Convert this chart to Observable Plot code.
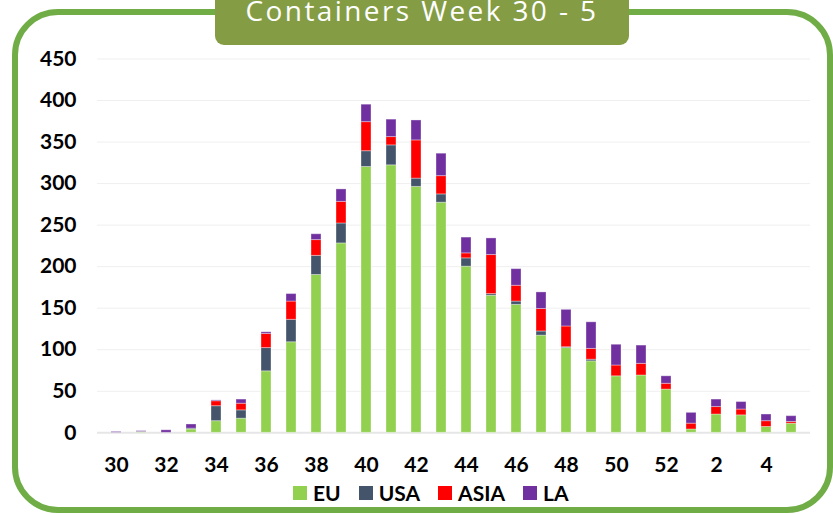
<!DOCTYPE html>
<html>
<head>
<meta charset="utf-8">
<script src="https://cdn.jsdelivr.net/npm/d3@7"></script>
<script src="https://cdn.jsdelivr.net/npm/@observablehq/plot@0.6"></script>
<style>
html,body{margin:0;padding:0;background:#fff;}
#wrap{position:relative;width:833px;height:514px;overflow:hidden;font-family:Lato,"Open Sans",sans-serif;}
#frame{position:absolute;left:12px;top:9px;width:821px;height:504px;box-sizing:border-box;border:6px solid #70ad47;border-radius:46px;}
#title{position:absolute;left:215px;top:0;width:414px;height:45px;background:#849d44;border-radius:0 0 9px 9px;overflow:hidden;}
#title span{position:absolute;left:0;right:0;top:-4px;text-align:center;color:#fff;font-family:"Open Sans",sans-serif;font-size:28px;line-height:28px;letter-spacing:2.4px;white-space:nowrap;}
#chart{position:absolute;left:0;top:0;}
#legend{position:absolute;left:293px;top:482px;display:flex;align-items:center;font-family:Lato,sans-serif;font-weight:bold;font-size:21px;line-height:21px;color:#000;}
#legend .item{display:flex;align-items:center;margin-right:18px;}
#legend .sw{width:14px;height:14px;margin-right:6px;}
</style>
</head>
<body>
<div id="wrap">
  <div id="frame"></div>
  <div id="chart"></div>
  <div id="legend"></div>
  <div id="title"><span>Containers Week 30 - 5</span></div>
</div>
<script>
const weeks = ["30","31","32","33","34","35","36","37","38","39","40","41","42","43","44","45","46","47","48","49","50","51","52","1","2","3","4","5"];
const series = ["EU","USA","ASIA","LA"];
const colors = ["#92d050","#44546a","#ff0000","#7030a0"];
const eu   = [0,1,0,4,14,17,74,109,190,228,320,322,296,277,200,165,154,117,102,86,68,69,52,4,22,21,7,11];
const usa  = [0,0,0,1,18,10,28,27,23,24,19,24,10,10,10,2,4,5,1,2,0,0,0,0,0,0,0,0];
const asia = [0,0,0,0,6,8,17,22,19,26,35,10,46,22,6,47,19,27,25,13,13,14,7,7,9,7,7,2];
const la   = [1,1,3,5,1,5,2,9,7,15,21,21,24,27,19,20,20,20,20,32,25,22,9,13,9,9,8,7];
const yTicks = [0,50,100,150,200,250,300,350,400,450];

const valuesBySeries = [eu, usa, asia, la];
const data = series.flatMap((s, si) => weeks.map((w, i) => ({week: w, series: s, value: valuesBySeries[si][i]})));

const chart = Plot.plot({
  width: 833,
  height: 475,
  marginLeft: 97,
  marginRight: 23,
  marginTop: 58.5,
  marginBottom: 42.7,
  style: {fontFamily: "Lato, 'Open Sans', sans-serif", fontSize: "21px", fontWeight: "bold", color: "#000", background: "transparent", overflow: "visible"},
  x: {domain: weeks, paddingInner: 0.6, paddingOuter: 0.3, label: null, tickSize: 0, tickPadding: 24,
      tickFormat: d => weeks.indexOf(d) % 2 === 0 ? d : ""},
  y: {domain: [0, 450], ticks: yTicks, label: null, tickSize: 0, tickPadding: 21},
  color: {domain: series, range: colors},
  marks: [
    Plot.gridY(yTicks.filter(d => d > 0), {stroke: "#efefef", strokeOpacity: 1}),
    Plot.ruleY([0], {stroke: "#e6e6e6", strokeWidth: 2}),
    Plot.barY(data, {x: "week", y: "value", fill: "series", stroke: "#fff", strokeOpacity: 0.35, strokeWidth: 1})
  ]
});
document.getElementById("chart").appendChild(chart);

const legend = document.getElementById("legend");
series.forEach((s, i) => {
  const item = document.createElement("div");
  item.className = "item";
  const sw = document.createElement("div");
  sw.className = "sw";
  sw.style.background = colors[i];
  const t = document.createElement("span");
  t.textContent = s;
  item.appendChild(sw);
  item.appendChild(t);
  legend.appendChild(item);
});
</script>
</body>
</html>
